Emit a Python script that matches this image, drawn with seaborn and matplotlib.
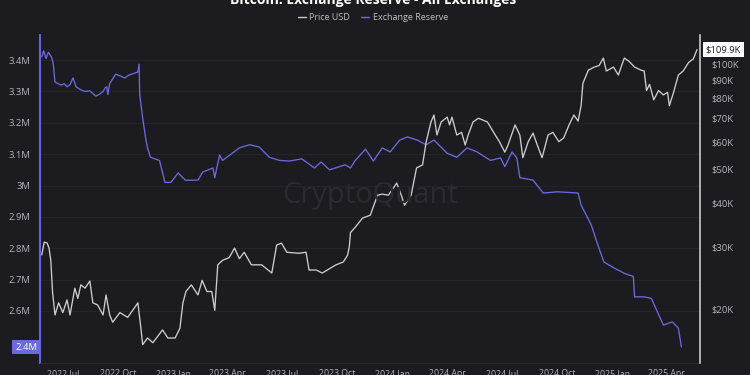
import matplotlib
matplotlib.use("Agg")
import matplotlib.pyplot as plt
import matplotlib.dates as mdates
import matplotlib.ticker as mticker
from matplotlib.lines import Line2D
import seaborn as sns
import pandas as pd
import numpy as np

# ---------------- data ----------------
reserve_dates = [
    "2022-05-27", "2022-05-30", "2022-06-03", "2022-06-07", "2022-06-12", "2022-06-15",
    "2022-06-18", "2022-06-23", "2022-06-28", "2022-07-03", "2022-07-08", "2022-07-13",
    "2022-07-18", "2022-07-23", "2022-07-31", "2022-08-07", "2022-08-15", "2022-08-22",
    "2022-08-25", "2022-08-30", "2022-09-06", "2022-09-09", "2022-09-12", "2022-09-14",
    "2022-09-17", "2022-09-27", "2022-10-04", "2022-10-12", "2022-10-19", "2022-10-31",
    "2022-11-03", "2022-11-05", "2022-11-06", "2022-11-08", "2022-11-11", "2022-11-16",
    "2022-11-19", "2022-11-24", "2022-12-09", "2022-12-18", "2022-12-28", "2023-01-09",
    "2023-01-21", "2023-01-29", "2023-02-11", "2023-02-19", "2023-03-08", "2023-03-11",
    "2023-03-19", "2023-03-24", "2023-04-21", "2023-05-08", "2023-05-24", "2023-06-10",
    "2023-06-27", "2023-07-13", "2023-08-03", "2023-08-24", "2023-09-04", "2023-09-18",
    "2023-10-14", "2023-10-23", "2023-10-31", "2023-11-17", "2023-11-30", "2023-12-15",
    "2023-12-28", "2024-01-13", "2024-01-26", "2024-02-11", "2024-02-26", "2024-03-10",
    "2024-04-01", "2024-04-17", "2024-05-04", "2024-05-21", "2024-06-12", "2024-06-29",
    "2024-07-06", "2024-07-18", "2024-07-26", "2024-07-31", "2024-08-22", "2024-09-08",
    "2024-10-02", "2024-11-05", "2024-11-10", "2024-11-27", "2024-12-08", "2024-12-18",
    "2025-01-04", "2025-01-21", "2025-02-05", "2025-02-07", "2025-02-23", "2025-03-07",
    "2025-03-27", "2025-04-11", "2025-04-21", "2025-04-26",
]
reserve_millions = [
    3.410, 3.430, 3.405, 3.425, 3.410, 3.390,
    3.330, 3.325, 3.320, 3.325, 3.315, 3.322,
    3.343, 3.315, 3.305, 3.300, 3.302, 3.290,
    3.285, 3.290, 3.300, 3.310, 3.315, 3.290,
    3.325, 3.355, 3.350, 3.343, 3.352, 3.360,
    3.362, 3.387, 3.290, 3.260, 3.215, 3.150,
    3.120, 3.090, 3.080, 3.010, 3.010, 3.040,
    3.017, 3.017, 3.017, 3.043, 3.056, 3.025,
    3.097, 3.080, 3.120, 3.130, 3.123, 3.090,
    3.080, 3.078, 3.085, 3.056, 3.075, 3.050,
    3.066, 3.056, 3.080, 3.116, 3.078, 3.120,
    3.107, 3.145, 3.155, 3.145, 3.130, 3.145,
    3.103, 3.090, 3.120, 3.107, 3.080, 3.088,
    3.060, 3.107, 3.088, 3.025, 3.017, 2.976,
    2.980, 2.976, 2.938, 2.874, 2.810, 2.756,
    2.737, 2.720, 2.710, 2.645, 2.645, 2.640,
    2.555, 2.565, 2.545, 2.485,
]

price_dates = [
    "2022-05-27", "2022-05-31", "2022-06-05", "2022-06-08", "2022-06-11", "2022-06-14",
    "2022-06-18", "2022-06-24", "2022-07-01", "2022-07-08", "2022-07-13", "2022-07-21",
    "2022-07-26", "2022-07-31", "2022-08-07", "2022-08-15", "2022-08-20", "2022-08-28",
    "2022-09-06", "2022-09-11", "2022-09-17", "2022-09-22", "2022-10-04", "2022-10-17",
    "2022-10-29", "2022-11-03", "2022-11-08", "2022-11-11", "2022-11-19", "2022-11-28",
    "2022-12-14", "2022-12-23", "2023-01-04", "2023-01-12", "2023-01-17", "2023-01-22",
    "2023-01-31", "2023-02-11", "2023-02-18", "2023-02-26", "2023-03-06", "2023-03-11",
    "2023-03-16", "2023-03-24", "2023-04-04", "2023-04-13", "2023-04-21", "2023-04-29",
    "2023-05-11", "2023-05-28", "2023-06-14", "2023-06-22", "2023-06-30", "2023-07-09",
    "2023-07-29", "2023-08-10", "2023-08-15", "2023-08-27", "2023-09-06", "2023-09-29",
    "2023-10-11", "2023-10-18", "2023-10-21", "2023-10-23", "2023-10-31", "2023-11-12",
    "2023-11-25", "2023-12-07", "2023-12-15", "2023-12-25", "2024-01-08", "2024-01-16",
    "2024-01-21", "2024-02-01", "2024-02-10", "2024-02-20", "2024-02-26", "2024-03-05",
    "2024-03-10", "2024-03-15", "2024-03-22", "2024-04-01", "2024-04-05", "2024-04-09",
    "2024-04-17", "2024-04-25", "2024-05-01", "2024-05-06", "2024-05-14", "2024-05-23",
    "2024-06-07", "2024-06-20", "2024-06-27", "2024-07-06", "2024-07-11", "2024-07-23",
    "2024-07-31", "2024-08-05", "2024-08-14", "2024-08-22", "2024-08-29", "2024-09-06",
    "2024-09-16", "2024-09-24", "2024-10-04", "2024-10-12", "2024-10-21", "2024-10-29",
    "2024-11-05", "2024-11-10", "2024-11-13", "2024-11-22", "2024-12-02", "2024-12-10",
    "2024-12-17", "2024-12-22", "2025-01-03", "2025-01-11", "2025-01-21", "2025-01-29",
    "2025-02-07", "2025-02-18", "2025-02-23", "2025-02-27", "2025-03-04", "2025-03-11",
    "2025-03-19", "2025-03-27", "2025-04-03", "2025-04-06", "2025-04-13", "2025-04-21",
    "2025-04-29", "2025-05-08", "2025-05-16", "2025-05-22",
]
price_thousands = [
    28.5, 31.0, 30.8, 29.8, 27.5, 22.2,
    19.2, 20.8, 19.5, 21.2, 19.2, 22.9,
    21.4, 23.4, 22.9, 24.0, 20.8, 20.5,
    19.2, 21.9, 19.2, 18.3, 19.5, 18.9,
    20.2, 20.8, 17.6, 15.8, 16.5, 16.0,
    17.4, 16.5, 16.5, 17.6, 20.8, 22.4,
    23.4, 21.9, 24.1, 22.4, 22.4, 19.8,
    26.7, 27.5, 28.0, 29.8, 27.8, 29.0,
    26.7, 26.7, 25.3, 30.4, 30.8, 29.0,
    28.8, 29.0, 25.8, 25.8, 25.3, 26.7,
    27.2, 28.4, 30.0, 33.0, 34.2, 36.3,
    37.0, 42.2, 42.5, 42.2, 45.7, 42.0,
    39.5, 42.2, 50.5, 51.5, 59.9, 68.3,
    71.5, 62.7, 68.3, 70.5, 67.0, 70.5,
    62.7, 63.8, 58.7, 62.7, 68.3, 70.0,
    68.3, 62.7, 60.0, 56.0, 58.5, 67.0,
    62.7, 54.0, 60.0, 63.5, 58.7, 54.0,
    62.7, 63.8, 60.0, 61.5, 67.0, 71.5,
    68.7, 76.0, 88.0, 96.0, 98.0, 99.0,
    104.0, 95.5, 98.0, 93.0, 104.0, 101.7,
    98.0, 96.0, 95.5, 84.0, 87.5, 79.0,
    84.0, 81.6, 83.0, 76.0, 83.0, 93.0,
    95.5, 101.0, 103.5, 109.9,
]

left_ticks_m = [2.6, 2.7, 2.8, 2.9, 3.0, 3.1, 3.2, 3.3, 3.4]
right_ticks_k = [20, 30, 40, 50, 60, 70, 80, 90, 100]
x_tick_dates = ["2022-07-01", "2022-10-01", "2023-01-01", "2023-04-01", "2023-07-01",
                "2023-10-01", "2024-01-01", "2024-04-01", "2024-07-01", "2024-10-01",
                "2025-01-01", "2025-04-01"]

# ---------------- styling ----------------
BG = "#1b1b20"
BLUE = "#6a6ade"
PRICE = "#cdcdd0"
TICK = "#b4b4ba"
GRID = "#25252b"

sns.set_style("dark", rc={"axes.facecolor": BG, "figure.facecolor": BG})
plt.rcParams["font.family"] = ["Open Sans", "DejaVu Sans"]

fig = plt.figure(figsize=(7.5, 3.75), dpi=100, facecolor=BG)
ax = fig.add_axes([40 / 750, 1 - 363 / 375, 660 / 750, 328 / 375])
ax.set_facecolor(BG)
ax2 = ax.twinx()

res = pd.DataFrame({"date": pd.to_datetime(reserve_dates),
                    "reserve": np.array(reserve_millions) * 1e6})
pr = pd.DataFrame({"date": pd.to_datetime(price_dates),
                   "price": np.array(price_thousands) * 1e3})

sns.lineplot(data=res, x="date", y="reserve", ax=ax, color=BLUE, linewidth=0.95)
sns.lineplot(data=pr, x="date", y="price", ax=ax2, color=PRICE, linewidth=0.95)

# x axis
ax.set_xlim(pd.Timestamp("2022-05-24"), pd.Timestamp("2025-05-27"))
ax.set_xticks(pd.to_datetime(x_tick_dates))
ax.xaxis.set_major_formatter(mdates.DateFormatter("%Y %b"))
ax.tick_params(axis="x", colors="#2e2e34", labelcolor=TICK, labelsize=6.3,
               length=3, width=0.6, pad=1.5)

# left axis
ax.set_ylim(2.434e6, 3.48e6)
ax.set_yticks([v * 1e6 for v in left_ticks_m])
ax.yaxis.set_major_formatter(mticker.FuncFormatter(lambda v, p: f"{v / 1e6:g}M"))
ax.tick_params(axis="y", length=0, labelcolor=TICK, labelsize=6.8, pad=7)
ax.grid(axis="y", color=GRID, linewidth=0.6)
ax.grid(axis="x", visible=False)
ax.set_xlabel("")
ax.set_ylabel("")

# right axis
ax2.set_yscale("log")
ax2.set_ylim(14000, 121000)
ax2.yaxis.set_major_locator(mticker.FixedLocator([v * 1e3 for v in right_ticks_k]))
ax2.yaxis.set_minor_locator(mticker.NullLocator())
ax2.yaxis.set_major_formatter(mticker.FuncFormatter(lambda v, p: f"${v / 1e3:g}K"))
ax2.tick_params(axis="y", length=0, labelcolor=TICK, labelsize=6.8, pad=8)
ax2.grid(False)
ax2.set_ylabel("")

for a in (ax, ax2):
    for s in a.spines.values():
        s.set_visible(False)
ax.spines["left"].set_visible(True)
ax.spines["left"].set_color(BLUE)
ax.spines["left"].set_linewidth(1.4)
ax.spines["bottom"].set_visible(True)
ax.spines["bottom"].set_color("#2a2a30")
ax.spines["bottom"].set_linewidth(0.6)
ax2.spines["right"].set_visible(True)
ax2.spines["right"].set_color("#c8c8cc")
ax2.spines["right"].set_linewidth(1.2)

# last value badges
ax.annotate("2.4M", xy=(0, reserve_millions[-1] * 1e6),
            xycoords=ax.get_yaxis_transform(), xytext=(-2, 0),
            textcoords="offset points", ha="right", va="center",
            fontsize=6.8, color="white", zorder=10, annotation_clip=False,
            bbox=dict(boxstyle="square,pad=0.3", fc=BLUE, ec="none"))
ax2.annotate(f"${price_thousands[-1]:.1f}K", xy=(1, price_thousands[-1] * 1e3),
             xycoords=ax2.get_yaxis_transform(), xytext=(4, 0),
             textcoords="offset points", ha="left", va="center",
             fontsize=6.8, color="#1b1b20", zorder=10, annotation_clip=False,
             bbox=dict(boxstyle="square,pad=0.3", fc="white", ec="none"))

# watermark
fig.text(0.493, 0.48, "CryptoQuant", fontsize=21, color="#2a2a30",
         ha="center", va="center", zorder=0)

# title (cut off at top in reference) and legend
fig.text(0.497, 1 - 4 / 375, "Bitcoin: Exchange Reserve - All Exchanges",
         fontsize=10, fontweight="bold", color="white", ha="center", va="baseline")
handles = [Line2D([0], [0], color=PRICE, lw=1.0), Line2D([0], [0], color=BLUE, lw=1.0)]
fig.legend(handles, ["Price USD", "Exchange Reserve"], loc="center",
           bbox_to_anchor=(0.497, 1 - 18 / 375), ncol=2, frameon=False,
           fontsize=6.5, labelcolor="#c0c0c4", handlelength=0.9,
           handletextpad=0.4, columnspacing=1.2)

fig.savefig("out.png", dpi=100, facecolor=BG)
